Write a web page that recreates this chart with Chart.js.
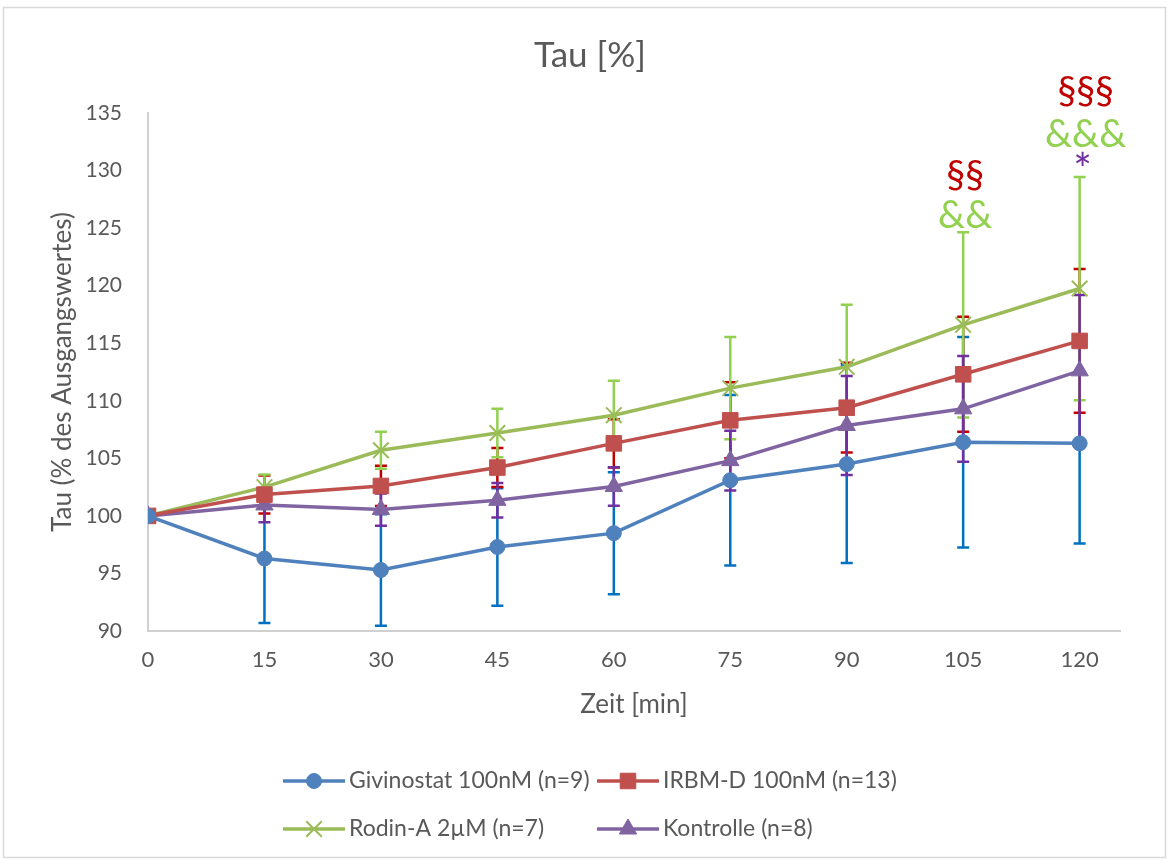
<!DOCTYPE html>
<html>
<head>
<meta charset="utf-8">
<script src="https://cdn.jsdelivr.net/npm/chart.js@4.4.1/dist/chart.umd.min.js"></script>
<style>
    html, body { margin: 0; padding: 0; background: #fff; }
    #wrap { width: 1170px; height: 861px; position: relative; }
</style>
</head>
<body>
<div id="wrap"><canvas id="tauChart" width="1170" height="861"></canvas></div>
<script>
// === DATA ===
const timePoints = [0, 15, 30, 45, 60, 75, 90, 105, 120];
const xTicks = [0, 15, 30, 45, 60, 75, 90, 105, 120];
const yTicks = [90, 95, 100, 105, 110, 115, 120, 125, 130, 135];

const seriesLabels = ['Givinostat 100nM (n=9)', 'IRBM-D 100nM (n=13)', 'Rodin-A 2µM (n=7)', 'Kontrolle (n=8)'];

const givinostatMean = [100, 96.3, 95.3, 97.3, 98.5, 103.1, 104.5, 106.4, 106.3];
const givinostatSd   = [0, 5.6, 4.85, 5.1, 5.3, 7.4, 8.6, 9.15, 8.7];
const irbmMean       = [100, 101.85, 102.6, 104.2, 106.3, 108.3, 109.4, 112.3, 115.2];
const irbmSd         = [0, 1.65, 1.75, 1.7, 2.1, 3.3, 3.9, 5.0, 6.25];
const rodinMean      = [100, 102.5, 105.7, 107.2, 108.75, 111.1, 112.95, 116.6, 119.75];
const rodinSd        = [0, 1.1, 1.6, 2.1, 3.0, 4.45, 5.4, 8.05, 9.7];
const kontrolleMean  = [100, 100.95, 100.55, 101.35, 102.55, 104.8, 107.85, 109.3, 112.6];
const kontrolleSd    = [0, 1.5, 1.4, 1.5, 1.67, 2.6, 4.3, 4.6, 6.6];

// significance marks above the Rodin-A error bars
const sigTimes = [105, 120];
const sigMarks = [['§§', '&&'], ['§§§', '&&&', '*']];

const FONT = 'Lato, "Open Sans", sans-serif';
const TEXT_COLOR = '#595959';
const RED = '#C00000';
const GREEN = '#92D050';
const PURPLE = '#7030A0';

function toPoints(means) {
    return means.map((v, i) => ({ x: timePoints[i], y: v }));
}

const datasets = [
    { label: seriesLabels[0], data: toPoints(givinostatMean), errors: givinostatSd,
      borderColor: '#4F81BD', backgroundColor: '#4F81BD', errorColor: '#0070C0',
      pointStyle: 'circle', pointRadius: 7.5, pointBorderWidth: 1 },
    { label: seriesLabels[1], data: toPoints(irbmMean), errors: irbmSd,
      borderColor: '#C0504D', backgroundColor: '#C0504D', errorColor: RED,
      pointStyle: 'rect', pointRadius: 11, pointBorderWidth: 1 },
    { label: seriesLabels[2], data: toPoints(rodinMean), errors: rodinSd,
      borderColor: '#9BBB59', backgroundColor: '#9BBB59', errorColor: GREEN,
      pointStyle: 'crossRot', pointRadius: 11, pointBorderWidth: 2 },
    { label: seriesLabels[3], data: toPoints(kontrolleMean), errors: kontrolleSd,
      borderColor: '#8064A2', backgroundColor: '#8064A2', errorColor: PURPLE,
      pointStyle: 'triangle', pointRadius: 10, pointBorderWidth: 1 }
].map(ds => ({ ...ds, borderWidth: 3.5, tension: 0, pointHoverRadius: ds.pointRadius }));

// Error bars go under the lines and markers, like Excel does it
const errorBarPlugin = {
    id: 'errorBars',
    beforeDatasetsDraw(chart) {
        const { ctx, scales: { x, y } } = chart;
        chart.data.datasets.forEach((ds) => {
            ctx.save();
            ctx.strokeStyle = ds.errorColor;
            ctx.lineWidth = 2.5;
            ds.data.forEach((pt, j) => {
                const sd = ds.errors[j];
                if (!sd) return;
                const px = x.getPixelForValue(pt.x);
                const top = y.getPixelForValue(pt.y + sd);
                const bot = y.getPixelForValue(pt.y - sd);
                ctx.beginPath();
                ctx.moveTo(px, top); ctx.lineTo(px, bot);
                ctx.moveTo(px - 6, top); ctx.lineTo(px + 6, top);
                ctx.moveTo(px - 6, bot); ctx.lineTo(px + 6, bot);
                ctx.stroke();
            });
            ctx.restore();
        });
    }
};

// Title, significance marks, legend and frame
const decorPlugin = {
    id: 'decor',
    beforeDraw(chart) {
        const { ctx } = chart;
        ctx.save();
        ctx.fillStyle = '#fff';
        ctx.fillRect(0, 0, chart.width, chart.height);
        ctx.strokeStyle = '#D9D9D9';
        ctx.lineWidth = 1.5;
        ctx.strokeRect(3.5, 7.5, 1162, 850);
        ctx.restore();
    },
    afterDraw(chart) {
        const { ctx, scales: { x, y } } = chart;
        ctx.save();

        // title
        ctx.fillStyle = TEXT_COLOR;
        ctx.font = '35px ' + FONT;
        ctx.textAlign = 'center';
        ctx.textBaseline = 'middle';
        ctx.fillText('Tau [%]', 590, 56);

        // significance marks, stacked above the green error bar
        const rodin = chart.data.datasets[2];
        const markColors = { '§': RED, '&': GREEN, '*': PURPLE };
        sigTimes.forEach((t, k) => {
            const idx = timePoints.indexOf(t);
            const capY = y.getPixelForValue(rodin.data[idx].y + rodin.errors[idx]);
            const px = x.getPixelForValue(t);
            const marks = sigMarks[k];
            // baseline offsets from the cap, top row first
            const offsets = marks.length === 3 ? [-73, -30, 8] : [-44, -4];
            const dx = marks.length === 3 ? 6 : 2;
            marks.forEach((m, r) => {
                ctx.fillStyle = markColors[m[0]];
                ctx.font = (m[0] === '*' ? '44px ' : '38px ') + FONT;
                ctx.textBaseline = 'alphabetic';
                ctx.fillText(m, px + (m[0] === '*' ? 3 : dx), capY + offsets[r]);
            });
        });

        // legend: 2 x 2 grid
        const colX = [283, 597];
        const rowY = [781, 829];
        chart.data.datasets.forEach((ds, i) => {
            const x0 = colX[i % 2];
            const yy = rowY[Math.floor(i / 2)];
            ctx.strokeStyle = ds.borderColor;
            ctx.lineWidth = 3.5;
            ctx.beginPath();
            ctx.moveTo(x0, yy); ctx.lineTo(x0 + 62, yy);
            ctx.stroke();
            ctx.fillStyle = ds.backgroundColor;
            ctx.lineWidth = ds.pointBorderWidth;
            Chart.helpers.drawPoint(ctx, {
                pointStyle: ds.pointStyle, radius: ds.pointRadius, rotation: 0,
                borderWidth: ds.pointBorderWidth
            }, x0 + 31, yy);
            ctx.fillStyle = TEXT_COLOR;
            ctx.font = '23px ' + FONT;
            ctx.textAlign = 'left';
            ctx.textBaseline = 'middle';
            ctx.fillText(ds.label, x0 + 66, yy);
        });
        ctx.restore();
    }
};

const ctx = document.getElementById('tauChart').getContext('2d');
new Chart(ctx, {
    type: 'line',
    data: { datasets },
    options: {
        responsive: false,
        animation: false,
        devicePixelRatio: 1,
        layout: { padding: { top: 113, right: 50, bottom: 130, left: 0 } },
        plugins: { legend: { display: false }, title: { display: false }, tooltip: { enabled: false } },
        scales: {
            x: {
                type: 'linear',
                min: 0,
                max: 125.2,
                afterBuildTicks: axis => { axis.ticks = xTicks.map(v => ({ value: v })); },
                afterFit: axis => { axis.height = 100; },
                grid: { display: false, drawTicks: false },
                border: { display: true, color: '#D0D0D0', width: 2 },
                ticks: { color: TEXT_COLOR, font: { family: FONT, size: 22 }, padding: 16, maxRotation: 0 },
                title: { display: true, text: 'Zeit [min]', color: TEXT_COLOR,
                         font: { family: FONT, size: 26 }, padding: { top: 0, bottom: 11 } }
            },
            y: {
                min: 90,
                max: 135,
                afterBuildTicks: axis => { axis.ticks = yTicks.map(v => ({ value: v })); },
                afterFit: axis => { axis.width = 148; },
                grid: { display: false, drawTicks: false },
                border: { display: true, color: '#D0D0D0', width: 2 },
                ticks: { color: TEXT_COLOR, font: { family: FONT, size: 21 }, padding: 26 },
                title: { display: true, text: 'Tau (% des Ausgangswertes)', color: TEXT_COLOR,
                         font: { family: FONT, size: 26 }, padding: { top: 47, bottom: 0 } }
            }
        }
    },
    plugins: [errorBarPlugin, decorPlugin]
});
</script>
</body>
</html>
